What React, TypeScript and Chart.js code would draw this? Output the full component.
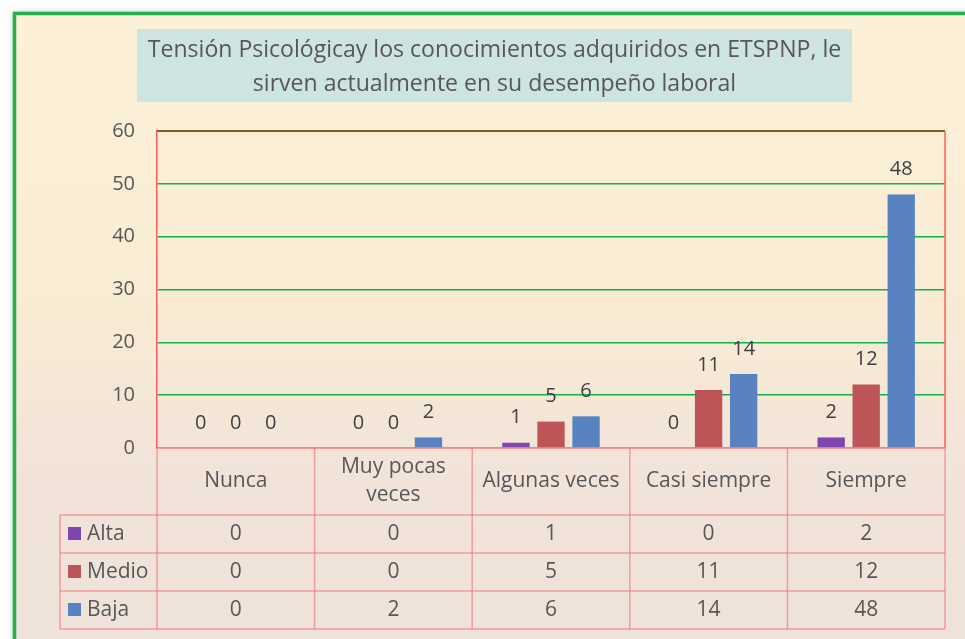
import { useEffect, useRef } from "react";
import { Chart, registerables } from "chart.js";

Chart.register(...registerables);

const titleLines = [
  "Tensión Psicológicay los conocimientos adquiridos en ETSPNP, le",
  "sirven actualmente en su desempeño laboral",
];
const categories: (string | string[])[] = [
  "Nunca",
  ["Muy pocas", "veces"],
  "Algunas veces",
  "Casi siempre",
  "Siempre",
];
const seriesNames = ["Alta", "Medio", "Baja"];
const alta = [0, 0, 1, 0, 2];
const medio = [0, 0, 5, 11, 12];
const baja = [0, 2, 6, 14, 48];
const yTicks = [0, 10, 20, 30, 40, 50, 60];

const seriesData = [alta, medio, baja];
const seriesColors = ["#7e46b1", "#bd5558", "#5882c0"];

const FONT = "'Open Sans', sans-serif";
const TEXT = "#575757";
const LABEL = "#404040";
const TABLE_LINE = "rgba(238, 110, 115, 0.6)";
const ROW_H = 38;

export default function App() {
  const ref = useRef<HTMLCanvasElement>(null);

  useEffect(() => {
    document.body.style.margin = "0";
    const canvas = ref.current!;

    const frame = {
      id: "frame",
      beforeDraw(chart: any) {
        const ctx = chart.ctx as CanvasRenderingContext2D;
        const W = chart.width;
        const H = chart.height;
        ctx.save();
        ctx.fillStyle = "#ffffff";
        ctx.fillRect(0, 0, W, H);
        const g = ctx.createLinearGradient(0, 14, 0, H);
        g.addColorStop(0, "#fcf1d8");
        g.addColorStop(0.45, "#f9ecd4");
        g.addColorStop(0.75, "#f1e3d9");
        g.addColorStop(1, "#eee2da");
        ctx.shadowColor = "rgba(0,0,0,0.35)";
        ctx.shadowBlur = 6;
        ctx.fillStyle = g;
        ctx.fillRect(14, 13, W + 20, H + 20);
        ctx.shadowBlur = 0;
        ctx.shadowColor = "transparent";
        ctx.strokeStyle = "#22b24c";
        ctx.lineWidth = 3.5;
        ctx.strokeRect(14.5, 13.5, W + 20, H + 20);

        // title box
        ctx.fillStyle = "#cde4e2";
        ctx.fillRect(137, 29, 715, 73);
        let size = 20;
        ctx.font = `${size}px ${FONT}`;
        const w = ctx.measureText(titleLines[0]).width;
        size = (size * 694) / w;
        ctx.font = `${size}px ${FONT}`;
        ctx.fillStyle = TEXT;
        ctx.textAlign = "center";
        ctx.textBaseline = "alphabetic";
        ctx.fillText(titleLines[0], 494.5, 57);
        ctx.fillText(titleLines[1], 494.5, 90.5);
        ctx.restore();
      },
    };

    const dataLabels = {
      id: "dataLabels",
      afterDatasetsDraw(chart: any) {
        const ctx = chart.ctx as CanvasRenderingContext2D;
        ctx.save();
        ctx.font = `20px ${FONT}`;
        ctx.fillStyle = LABEL;
        ctx.textAlign = "center";
        ctx.textBaseline = "middle";
        chart.data.datasets.forEach((ds: any, di: number) => {
          const meta = chart.getDatasetMeta(di);
          meta.data.forEach((el: any, i: number) => {
            ctx.fillText(String(ds.data[i]), el.x, el.y - 25);
          });
        });
        ctx.restore();
      },
    };

    const table = {
      id: "table",
      afterDraw(chart: any) {
        const ctx = chart.ctx as CanvasRenderingContext2D;
        const xs = chart.scales.x;
        const ys = chart.scales.y;
        const ca = chart.chartArea;
        const n = categories.length;
        const colW = (ca.right - ca.left) / n;
        const headTop = xs.top;
        const rowTop = xs.bottom;
        const bottom = rowTop + seriesNames.length * ROW_H;
        const left = ys.left;
        ctx.save();
        ctx.strokeStyle = TABLE_LINE;
        ctx.lineWidth = 1.5;
        const line = (x1: number, y1: number, x2: number, y2: number) => {
          ctx.beginPath();
          ctx.moveTo(x1, y1);
          ctx.lineTo(x2, y2);
          ctx.stroke();
        };
        line(ca.left, headTop, ca.right, headTop);
        for (let r = 0; r <= seriesNames.length; r++) {
          const y = rowTop + r * ROW_H;
          line(left, y, ca.right, y);
        }
        for (let i = 0; i <= n; i++) {
          const x = ca.left + i * colW;
          line(x, headTop, x, bottom);
        }
        line(left, rowTop, left, bottom);

        ctx.font = `21px ${FONT}`;
        ctx.textBaseline = "middle";
        seriesNames.forEach((name, s) => {
          const cy = rowTop + s * ROW_H + ROW_H / 2;
          ctx.fillStyle = seriesColors[s];
          ctx.fillRect(left + 8, cy - 7, 13, 13);
          ctx.fillStyle = TEXT;
          ctx.textAlign = "left";
          ctx.fillText(name, left + 27, cy);
          ctx.textAlign = "center";
          seriesData[s].forEach((v, i) => {
            ctx.fillText(String(v), xs.getPixelForValue(i), cy);
          });
        });

        // plot area border: top and right
        ctx.strokeStyle = "#8d5a30";
        ctx.lineWidth = 2;
        line(ca.left, ca.top, ca.right, ca.top);
        ctx.strokeStyle = "#ff5f5f";
        ctx.lineWidth = 1.5;
        line(ca.right, ca.top, ca.right, headTop);
        ctx.restore();
      },
    };

    const tickFont = { family: FONT, size: 21, lineHeight: 1.35 };

    const chart = new Chart(canvas, {
      type: "bar",
      data: {
        labels: categories as any,
        datasets: seriesNames.map((name, i) => ({
          label: name,
          data: seriesData[i],
          backgroundColor: seriesColors[i],
          borderWidth: 0,
          barPercentage: 0.78,
          categoryPercentage: 0.667,
        })),
      },
      options: {
        responsive: false,
        animation: false,
        layout: { padding: { left: 60, top: 131, right: 20, bottom: 124 } },
        plugins: {
          legend: { display: false },
          title: { display: false },
          tooltip: { enabled: false },
        },
        scales: {
          x: {
            grid: { display: false, drawTicks: false },
            border: { display: true, color: TABLE_LINE, width: 1.5 },
            ticks: {
              font: tickFont,
              color: TEXT,
              padding: 19,
              crossAlign: "center",
              maxRotation: 0,
              autoSkip: false,
            },
            afterFit(s: any) {
              s.height = 67;
            },
          },
          y: {
            min: yTicks[0],
            max: yTicks[yTicks.length - 1],
            ticks: {
              stepSize: yTicks[1] - yTicks[0],
              padding: 22,
              font: { family: FONT, size: 20 },
              color: TEXT,
            },
            grid: {
              drawTicks: false,
              lineWidth: 1.5,
              color: (c: any) =>
                c.tick && (c.tick.value === yTicks[0] || c.tick.value === yTicks[yTicks.length - 1])
                  ? "rgba(0,0,0,0)"
                  : "#12b04a",
            },
            border: { display: true, color: "#ff5f5f", width: 1.5 },
            afterFit(s: any) {
              s.width = 97;
            },
          },
        },
      } as any,
      plugins: [frame, dataLabels, table],
    });
    return () => chart.destroy();
  }, []);

  return <canvas ref={ref} width={965} height={639} style={{ display: "block" }} />;
}
